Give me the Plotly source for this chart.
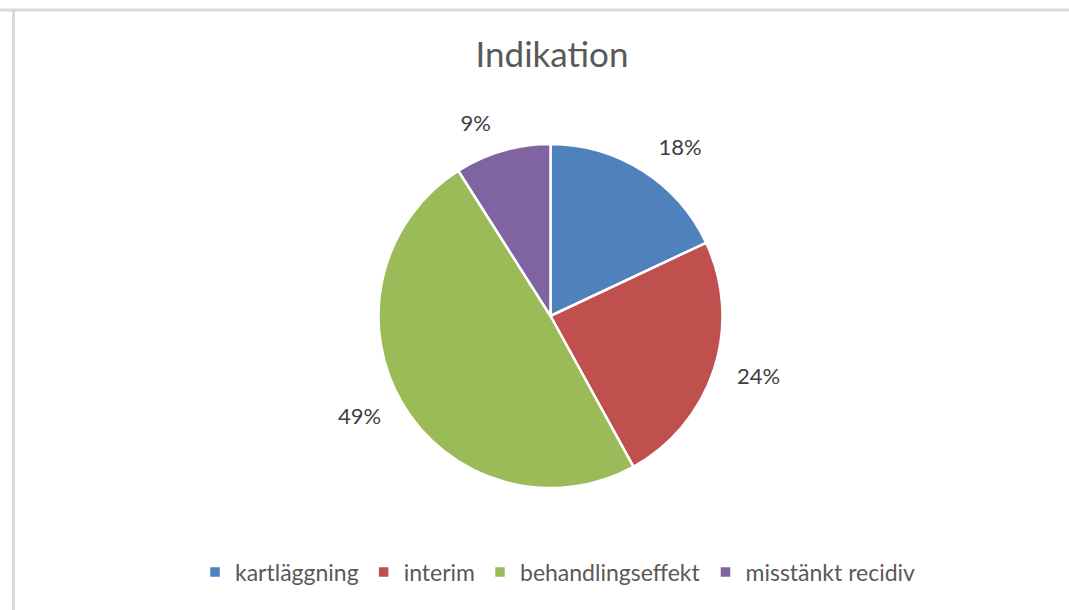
import plotly.graph_objects as go

categories = ["kartläggning", "interim", "behandlingseffekt", "misstänkt recidiv"]
values = [18, 24, 49, 9]
colors = ["#4f81bd", "#c0504d", "#9bbb59", "#8064a2"]
title_text = "Indikation"

W, H = 1069, 610
cx, cy, r = 550.5, 316, 172
r_lab = 189  # radius of the invisible pie that carries the outside labels


def dom(rad):
    return dict(x=[(cx - rad) / W, (cx + rad) / W], y=[1 - (cy + rad) / H, 1 - (cy - rad) / H])


pie_vis = go.Pie(
    labels=categories,
    values=values,
    sort=False,
    direction="clockwise",
    rotation=0,
    marker=dict(colors=colors, line=dict(color="white", width=2.5)),
    textinfo="none",
    domain=dom(r),
    hoverinfo="label+percent",
    showlegend=True,
)

pie_lab = go.Pie(
    labels=categories,
    values=values,
    sort=False,
    direction="clockwise",
    rotation=0,
    marker=dict(colors=["rgba(0,0,0,0)"] * len(values), line=dict(width=0)),
    textinfo="percent",
    texttemplate="%{percent:.0%}",
    textposition="outside",
    textfont=dict(family="Lato", size=22, color="#404040"),
    domain=dom(r_lab),
    hoverinfo="skip",
    showlegend=False,
)

fig = go.Figure([pie_vis, pie_lab])

fig.update_layout(
    width=W, height=H,
    margin=dict(l=0, r=0, t=0, b=0),
    paper_bgcolor="white",
    plot_bgcolor="white",
    font=dict(family="Lato", color="#595959"),
    title=dict(text=title_text, x=552 / W, xanchor="center", y=1 - 55 / H, yanchor="middle",
               font=dict(family="Lato", size=35, color="#595959")),
    showlegend=True,
    legend=dict(orientation="h", x=558 / W, xanchor="center", y=1 - 572 / H, yanchor="middle",
                font=dict(family="Lato", size=23, color="#595959"), traceorder="normal"),
    shapes=[
        dict(type="line", xref="paper", yref="paper", x0=0, x1=1, y0=1 - 10 / H, y1=1 - 10 / H,
             line=dict(color="#d9d9d9", width=3)),
        dict(type="line", xref="paper", yref="paper", x0=13.5 / W, x1=13.5 / W, y0=0, y1=1 - 9 / H,
             line=dict(color="#d9d9d9", width=3)),
    ],
)

fig.write_html("out.html", config={"displayModeBar": False},
               post_script="document.body.style.margin='0';document.body.style.overflow='hidden';")
